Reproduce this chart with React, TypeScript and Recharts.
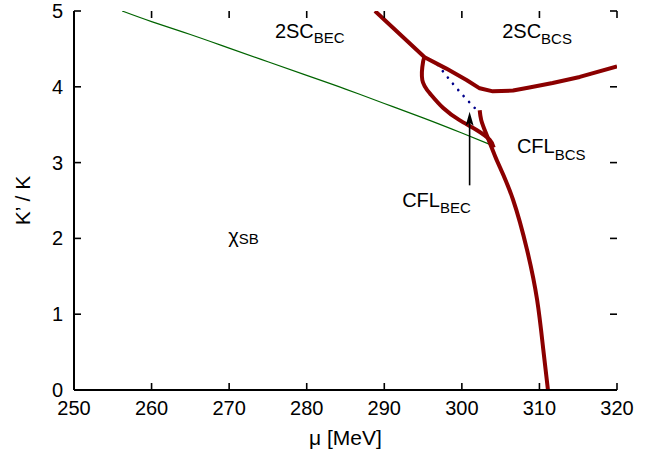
import React from "react";
import {
  LineChart,
  Line,
  XAxis,
  YAxis,
  ReferenceLine,
  ReferenceDot,
} from "recharts";

// ---- data (mu in MeV, K'/K) ----
const xTicks = [250, 260, 270, 280, 290, 300, 310, 320];
const yTicks = [0, 1, 2, 3, 4, 5];
const X_MIN = 250;
const X_MAX = 320;
const Y_MIN = 0;
const Y_MAX = 5;

const greenMu = [256.2, 260, 265, 270, 275, 280, 285, 290, 295, 300, 303.6];
const greenK = [5.0, 4.86, 4.69, 4.51, 4.33, 4.15, 3.97, 3.78, 3.59, 3.39, 3.24];

const upperMu = [288.8, 295.2, 298.0, 300.6, 302.3, 304.0, 306.6, 308.7, 311.7, 315.2, 320.0];
const upperK = [5.0, 4.39, 4.24, 4.09, 3.98, 3.94, 3.95, 3.99, 4.05, 4.13, 4.27];

const loopMu = [295.2, 295.0, 294.9, 295.9, 297.6, 299.7, 301.9, 303.6, 304.1];
const loopK = [4.39, 4.33, 4.09, 3.91, 3.72, 3.56, 3.43, 3.3, 3.2];

const cflMu = [302.3, 302.5, 303.1, 303.8, 304.3, 304.9, 306.6, 308.4, 309.7, 310.5, 311.1];
const cflK = [3.69, 3.56, 3.39, 3.21, 3.08, 2.94, 2.51, 1.85, 1.19, 0.53, 0];

const dotMu = [296.9, 299.6, 302.7];
const dotK = [4.29, 3.95, 3.61];

const arrowMu = 301.0;
const arrowFromK = 2.7;
const arrowTipK = 3.67;

const labels = [
  { mu: 275.9, k: 4.64, main: "2SC", sub: "BEC", dy: 5 },
  { mu: 305.2, k: 4.64, main: "2SC", sub: "BCS", dy: 6 },
  { mu: 307.1, k: 3.13, main: "CFL", sub: "BCS", dy: 7 },
  { mu: 292.3, k: 2.41, main: "CFL", sub: "BEC", dy: 6 },
  { mu: 269.9, k: 1.94, main: "\u03c7", sub: "SB", dy: 1 },
];

const zip = (xs: number[], ys: number[]) => xs.map((x, i) => ({ x, y: ys[i] }));

const FONT = "'Liberation Sans', Arial, Helvetica, sans-serif";
const TL = 7;
const axisLineStyle = { stroke: "#000", strokeWidth: 2 };

const BottomTick = (p: any) => (
  <text x={p.x} y={p.y + 25} textAnchor="middle" fontSize={20} fontFamily={FONT} fill="#000">
    {p.payload.value}
  </text>
);
const LeftTick = (p: any) => (
  <text x={p.x - 11} y={p.y + 7} textAnchor="end" fontSize={20} fontFamily={FONT} fill="#000">
    {p.payload.value}
  </text>
);

const ax = { xAxisId: "b", yAxisId: "l" } as const;

// inward tick marks, placed via the chart's scales
const tickMark = (dx: number, dy: number) => (p: any) => (
  <line x1={p.cx} y1={p.cy} x2={p.cx + dx} y2={p.cy + dy} stroke="#000" strokeWidth={1.6} />
);

export default function App() {
  return (
    <div style={{ position: "absolute", left: 0, top: 0, background: "#fff" }}>
      <LineChart width={652} height={458} margin={{ top: 11, right: 35, bottom: 0, left: 0 }}>
        <XAxis
          xAxisId="b"
          type="number"
          dataKey="x"
          domain={[X_MIN, X_MAX]}
          ticks={xTicks}
          interval={0}
          height={68}
          tickSize={0}
          tickMargin={0}
          stroke="#000"
          tickLine={false}
          tick={<BottomTick />}
          axisLine={axisLineStyle}
          allowDataOverflow
          label={{
            value: "\u03bc [MeV]",
            position: "insideBottom",
            offset: 13,
            fontSize: 21,
            fontFamily: FONT,
            fill: "#000",
          }}
        />
        <XAxis
          xAxisId="t"
          orientation="top"
          type="number"
          dataKey="x"
          domain={[X_MIN, X_MAX]}
          ticks={xTicks}
          height={0}
          stroke="#000"
          tickLine={false}
          tick={false}
          axisLine={axisLineStyle}
          allowDataOverflow
        />
        <YAxis
          yAxisId="l"
          type="number"
          dataKey="y"
          domain={[Y_MIN, Y_MAX]}
          ticks={yTicks}
          interval={0}
          width={74}
          tickSize={0}
          tickMargin={0}
          stroke="#000"
          tickLine={false}
          tick={<LeftTick />}
          axisLine={axisLineStyle}
          allowDataOverflow
          label={{
            value: "K\u2019 / K",
            angle: -90,
            position: "insideLeft",
            offset: 23,
            fontSize: 21,
            fontFamily: FONT,
            fill: "#000",
            style: { textAnchor: "middle" },
          }}
        />
        <YAxis
          yAxisId="r"
          orientation="right"
          type="number"
          dataKey="y"
          domain={[Y_MIN, Y_MAX]}
          ticks={yTicks}
          width={0}
          stroke="#000"
          tickLine={false}
          tick={false}
          axisLine={axisLineStyle}
          allowDataOverflow
        />

        {xTicks.map((t) => (
          <ReferenceDot key={"xb" + t} {...ax} x={t} y={Y_MIN} r={0} ifOverflow="visible" shape={tickMark(0, -TL)} />
        ))}
        {xTicks.map((t) => (
          <ReferenceDot key={"xt" + t} {...ax} x={t} y={Y_MAX} r={0} ifOverflow="visible" shape={tickMark(0, TL)} />
        ))}
        {yTicks.map((t) => (
          <ReferenceDot key={"yl" + t} {...ax} x={X_MIN} y={t} r={0} ifOverflow="visible" shape={tickMark(TL, 0)} />
        ))}
        {yTicks.map((t) => (
          <ReferenceDot key={"yr" + t} {...ax} x={X_MAX} y={t} r={0} ifOverflow="visible" shape={tickMark(-TL, 0)} />
        ))}

        <Line {...ax} data={zip(greenMu, greenK)} dataKey="y" type="natural" stroke="#006400" strokeWidth={1.2} dot={false} isAnimationActive={false} />
        <Line {...ax} data={zip(dotMu, dotK)} dataKey="y" type="natural" stroke="#00008b" strokeWidth={2.6} strokeDasharray="0.1 8" strokeLinecap="round" dot={false} isAnimationActive={false} />
        <Line {...ax} data={zip(upperMu, upperK)} dataKey="y" type="linear" stroke="#8b0000" strokeWidth={4} strokeLinejoin="round" dot={false} isAnimationActive={false} />
        <Line {...ax} data={zip(loopMu, loopK)} dataKey="y" type="natural" stroke="#8b0000" strokeWidth={4} strokeLinejoin="round" dot={false} isAnimationActive={false} />
        <Line {...ax} data={zip(cflMu, cflK)} dataKey="y" type="natural" stroke="#8b0000" strokeWidth={4} strokeLinejoin="round" dot={false} isAnimationActive={false} />

        <ReferenceLine
          {...ax}
          segment={[
            { x: arrowMu, y: arrowFromK },
            { x: arrowMu, y: arrowTipK - 0.12 },
          ]}
          stroke="#000"
          strokeWidth={1.6}
        />
        <ReferenceDot
          {...ax}
          x={arrowMu}
          y={arrowTipK}
          r={0}
          shape={(p: any) => (
            <polygon
              points={`${p.cx},${p.cy} ${p.cx - 4},${p.cy + 14} ${p.cx},${p.cy + 11} ${p.cx + 4},${p.cy + 14}`}
              fill="#000"
            />
          )}
        />

        {labels.map((l, i) => (
          <ReferenceDot
            key={i}
            {...ax}
            x={l.mu}
            y={l.k}
            r={0}
            shape={(p: any) => (
              <text x={p.cx} y={p.cy} fontSize={20} fontFamily={FONT} fill="#000">
                <tspan>{l.main}</tspan>
                <tspan fontSize={15} dy={l.dy}>
                  {l.sub}
                </tspan>
              </text>
            )}
          />
        ))}
      </LineChart>
    </div>
  );
}
